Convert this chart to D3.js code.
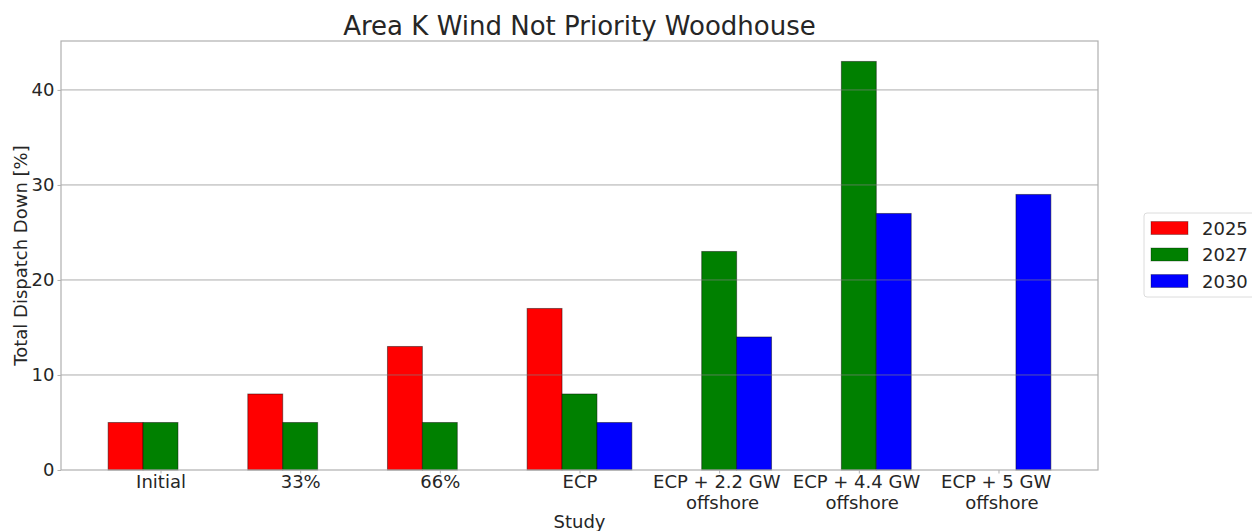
<!DOCTYPE html>
<html>
<head>
<meta charset="utf-8">
<script src="https://cdn.jsdelivr.net/npm/d3@7"></script>
<style>
  body { margin: 0; background: #fff; }
  text { font-family: "DejaVu Sans", sans-serif; fill: #262626; }
  .xt { white-space: pre; }
</style>
</head>
<body>
<div id="chart"></div>
<script>
// data
var studies = ["Initial", "33%", "66%", "ECP", "ECP + 2.2 GW \n offshore", "ECP + 4.4 GW \n offshore", "ECP + 5 GW \n offshore"];
var years = ["2025", "2027", "2030"];
var values2025 = [5, 8, 13, 17, 0, 0, 0];
var values2027 = [5, 5, 5, 8, 23, 43, 0];
var values2030 = [0, 0, 0, 5, 14, 27, 29];
var yTicks = [0, 10, 20, 30, 40];
var colors = ["#ff0000", "#008000", "#0000ff"];

var width = 1252, height = 531;
var margin = {top: 41, right: 154, bottom: 61, left: 61};
var w = width - margin.left - margin.right,
    h = height - margin.top - margin.bottom;
var barW = 0.25;
var series = [values2025, values2027, values2030];

var svg = d3.select("#chart").append("svg")
    .attr("width", width)
    .attr("height", height);
var g = svg.append("g")
    .attr("transform", "translate(" + margin.left + "," + margin.top + ")");

// matplotlib-like 5% padding
var xmin = -1.5 * barW, xmax = studies.length - 1 + 1.5 * barW;
var pad = (xmax - xmin) * 0.05;
var x = d3.scaleLinear().domain([xmin - pad, xmax + pad]).range([0, w]);
var ymax = d3.max(series, function (s) { return d3.max(s); }) * 1.05;
var y = d3.scaleLinear().domain([0, ymax]).range([h, 0]);

// bars
series.forEach(function (s, k) {
  g.selectAll(".bar" + k)
      .data(s.map(function (v, i) { return {i: i, v: v}; }).filter(function (d) { return d.v > 0; }))
    .enter().append("rect")
      .attr("class", "bar" + k)
      .attr("x", function (d) { return x(d.i + (k - 1) * barW - barW / 2); })
      .attr("width", x(barW) - x(0))
      .attr("y", function (d) { return y(d.v); })
      .attr("height", function (d) { return y(0) - y(d.v); })
      .attr("fill", colors[k])
      .attr("stroke", "#000")
      .attr("stroke-opacity", 0.45)
      .attr("stroke-width", 1);
});

// grid on top of bars
g.selectAll(".grid")
    .data(yTicks.slice(1))
  .enter().append("line")
    .attr("class", "grid")
    .attr("x1", 0).attr("x2", w)
    .attr("y1", function (d) { return y(d); })
    .attr("y2", function (d) { return y(d); })
    .attr("stroke", "#808080")
    .attr("stroke-opacity", 0.65)
    .attr("stroke-width", 1);

// frame
g.append("rect")
    .attr("width", w).attr("height", h)
    .attr("fill", "none")
    .attr("stroke", "#b0b0b0")
    .attr("stroke-width", 1.2);

// y axis
var yAxis = g.append("g").call(d3.axisLeft(y).tickValues(yTicks).tickSize(3.5).tickPadding(3));
yAxis.select(".domain").remove();
yAxis.selectAll(".tick line").attr("stroke", "#b0b0b0");
yAxis.selectAll(".tick text").style("font-size", "18px").attr("fill", "#262626");

// x axis
var xAxis = g.append("g")
    .attr("transform", "translate(0," + h + ")")
    .call(d3.axisBottom(x).tickValues(d3.range(studies.length)).tickSize(3.5).tickFormat(""));
xAxis.select(".domain").remove();
xAxis.selectAll(".tick line").attr("stroke", "#b0b0b0");
xAxis.selectAll(".tick").each(function (d) {
  var lines = studies[d].split("\n");
  var t = d3.select(this).append("text")
      .attr("class", "xt")
      .attr("text-anchor", "middle")
      .attr("y", 18)
      .style("font-size", "18px");
  lines.forEach(function (l, j) {
    t.append("tspan").attr("x", 0).attr("dy", j === 0 ? 0 : 20.5).text(l);
  });
});

// title and labels
svg.append("text")
    .attr("x", margin.left + w / 2).attr("y", 35)
    .attr("text-anchor", "middle")
    .style("font-size", "26px")
    .text("Area K Wind Not Priority Woodhouse");
svg.append("text")
    .attr("x", margin.left + w / 2).attr("y", 528)
    .attr("text-anchor", "middle")
    .style("font-size", "18px")
    .text("Study");
svg.append("text")
    .attr("transform", "translate(27," + (margin.top + h / 2) + ") rotate(-90)")
    .attr("text-anchor", "middle")
    .style("font-size", "18px")
    .text("Total Dispatch Down [%]");

// legend
var lg = svg.append("g").attr("transform", "translate(1144,213)");
lg.append("rect")
    .attr("width", 120).attr("height", 84)
    .attr("rx", 3)
    .attr("fill", "#fff")
    .attr("stroke", "#dcdcdc");
years.forEach(function (yr, k) {
  var row = lg.append("g").attr("transform", "translate(0," + (15 + k * 26.5) + ")");
  row.append("rect")
      .attr("x", 7).attr("y", -6.5)
      .attr("width", 37).attr("height", 13)
      .attr("fill", colors[k])
      .attr("stroke", "#000").attr("stroke-opacity", 0.3);
  row.append("text")
      .attr("x", 58).attr("y", 6.5)
      .style("font-size", "18px")
      .text(yr);
});
</script>
</body>
</html>
